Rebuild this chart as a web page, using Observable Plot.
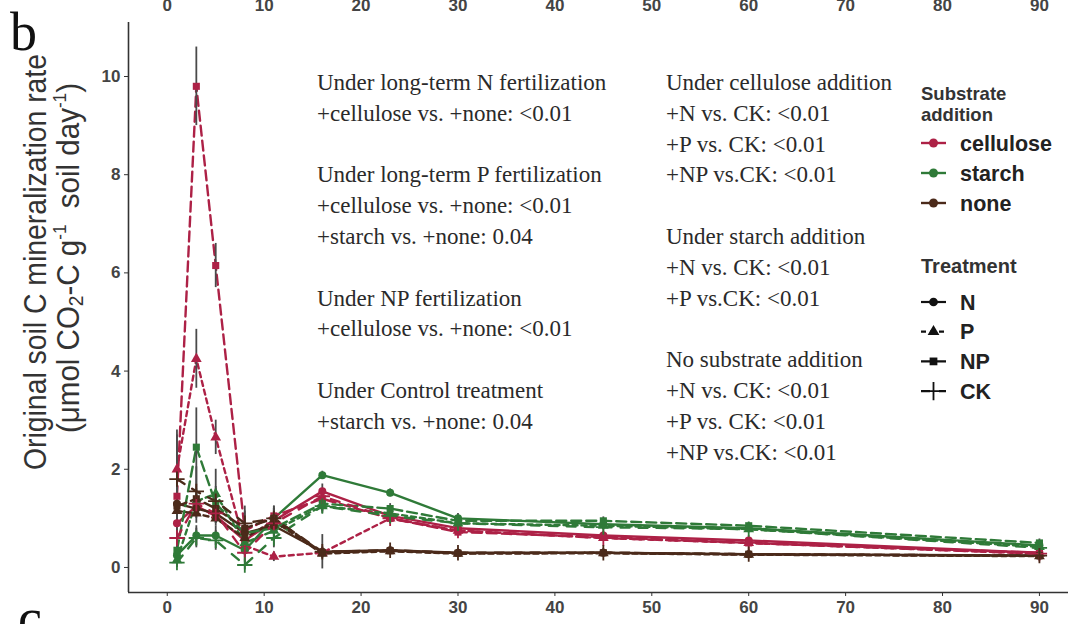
<!DOCTYPE html>
<html>
<head>
<meta charset="utf-8">
<script src="https://cdn.jsdelivr.net/npm/d3@7"></script>
<script src="https://cdn.jsdelivr.net/npm/@observablehq/plot@0.6"></script>
<style>
  body { margin: 0; background: #fff; }
  #chart { position: relative; width: 1068px; height: 624px; overflow: hidden; }
</style>
</head>
<body>
<div id="chart"></div>
<script>
// ---- data ----
const days = [1, 3, 5, 8, 11, 16, 23, 30, 45, 60, 90];
const substrates = ["cellulose", "starch", "none"];
const treatments = ["N", "P", "NP", "CK"];
const xTicks = [0, 10, 20, 30, 40, 50, 60, 70, 80, 90];
const yTicks = [0, 2, 4, 6, 8, 10];

const cellulose_N  = [0.9, 1.25, 1.05, 0.55, 0.95, 1.55, 1.05, 0.8, 0.65, 0.55, 0.3];
const cellulose_P  = [2.0, 4.25, 2.65, 0.45, 0.22, 0.3, 1.0, 0.75, 0.6, 0.5, 0.28];
const cellulose_NP = [1.45, 9.8, 6.15, 0.75, 1.05, 1.4, 1.0, 0.72, 0.62, 0.5, 0.3];
const cellulose_CK = [0.6, 1.3, 1.1, 0.3, 0.9, 1.45, 1.0, 0.75, 0.6, 0.5, 0.28];
const starch_N  = [0.25, 0.65, 0.65, 0.35, 1.0, 1.88, 1.52, 1.0, 0.88, 0.8, 0.45];
const starch_P  = [0.15, 1.35, 1.5, 0.5, 0.75, 1.25, 1.1, 0.9, 0.85, 0.78, 0.42];
const starch_NP = [0.35, 2.45, 1.3, 0.7, 0.8, 1.3, 1.2, 0.95, 0.95, 0.85, 0.5];
const starch_CK = [0.1, 0.6, 0.55, 0.05, 0.6, 1.25, 1.05, 0.9, 0.82, 0.78, 0.4];
const none_N  = [1.3, 1.2, 1.1, 0.7, 0.85, 0.32, 0.35, 0.3, 0.3, 0.27, 0.24];
const none_P  = [1.15, 1.1, 1.0, 0.6, 0.95, 0.28, 0.33, 0.28, 0.29, 0.26, 0.23];
const none_NP = [1.25, 1.4, 1.2, 0.8, 1.0, 0.3, 0.34, 0.29, 0.3, 0.27, 0.24];
const none_CK = [1.8, 1.55, 1.35, 0.9, 1.0, 0.32, 0.35, 0.3, 0.3, 0.27, 0.24];

const cellulose_N_sd  = [0.3, 0.2, 0.15, 0.2, 0.3, 0.15, 0.1, 0.08, 0.08, 0.06, 0.05];
const cellulose_P_sd  = [0.8, 0.6, 0.35, 0.2, 0.1, 0.1, 0.1, 0.08, 0.07, 0.06, 0.05];
const cellulose_NP_sd = [0.4, 0.8, 0.45, 0.5, 0.2, 0.15, 0.1, 0.08, 0.08, 0.06, 0.05];
const cellulose_CK_sd = [0.3, 0.2, 0.2, 0.2, 0.15, 0.12, 0.1, 0.08, 0.07, 0.06, 0.05];
const starch_N_sd  = [0.15, 0.2, 0.2, 0.15, 0.2, 0.08, 0.08, 0.1, 0.08, 0.06, 0.05];
const starch_P_sd  = [0.1, 0.3, 0.5, 0.2, 0.2, 0.15, 0.1, 0.08, 0.07, 0.06, 0.08];
const starch_NP_sd = [0.2, 0.8, 0.3, 0.2, 0.2, 0.15, 0.1, 0.1, 0.08, 0.06, 0.08];
const starch_CK_sd = [0.1, 0.2, 0.2, 0.1, 0.2, 0.12, 0.1, 0.08, 0.07, 0.06, 0.05];
const none_N_sd  = [0.3, 0.2, 0.15, 0.2, 0.25, 0.35, 0.05, 0.05, 0.05, 0.04, 0.04];
const none_P_sd  = [0.3, 0.2, 0.15, 0.2, 0.2, 0.1, 0.05, 0.05, 0.05, 0.04, 0.04];
const none_NP_sd = [0.3, 0.2, 0.15, 0.2, 0.2, 0.1, 0.05, 0.05, 0.05, 0.04, 0.04];
const none_CK_sd = [0.9, 0.5, 0.3, 0.25, 0.2, 0.1, 0.05, 0.05, 0.05, 0.04, 0.04];

const leftNotes = [
  "Under long-term N fertilization", "+cellulose vs. +none: <0.01", "",
  "Under long-term P fertilization", "+cellulose vs. +none: <0.01", "+starch vs. +none: 0.04", "",
  "Under NP fertilization", "+cellulose vs. +none: <0.01", "",
  "Under Control treatment", "+starch vs. +none: 0.04"
];
const rightNotes = [
  "Under cellulose addition", "+N vs. CK: <0.01", "+P vs. CK: <0.01", "+NP vs.CK: <0.01", "",
  "Under starch addition", "+N vs. CK: <0.01", "+P vs.CK: <0.01", "",
  "No substrate addition", "+N vs. CK: <0.01", "+P vs. CK: <0.01", "+NP vs.CK: <0.01"
];

// ---- table ----
const values = {
  cellulose: {N: cellulose_N, P: cellulose_P, NP: cellulose_NP, CK: cellulose_CK},
  starch: {N: starch_N, P: starch_P, NP: starch_NP, CK: starch_CK},
  none: {N: none_N, P: none_P, NP: none_NP, CK: none_CK}
};
const sds = {
  cellulose: {N: cellulose_N_sd, P: cellulose_P_sd, NP: cellulose_NP_sd, CK: cellulose_CK_sd},
  starch: {N: starch_N_sd, P: starch_P_sd, NP: starch_NP_sd, CK: starch_CK_sd},
  none: {N: none_N_sd, P: none_P_sd, NP: none_NP_sd, CK: none_CK_sd}
};
const rows = [];
for (const s of substrates) for (const t of treatments)
  days.forEach((d, i) => rows.push({day: d, substrate: s, treatment: t,
    rate: values[s][t][i], sd: sds[s][t][i]}));

const colors = ["#ad2146", "#2f7a38", "#4b2a1a"];
const dashes = {N: null, P: "5,4", NP: "10,5", CK: "9,9"};
const sans = "'Liberation Sans', Arial, sans-serif";
const serif = "'Liberation Serif', 'Times New Roman', serif";

const lineMarks = treatments.map(t =>
  Plot.line(rows.filter(d => d.treatment === t), {
    x: "day", y: "rate", z: "substrate", stroke: "substrate",
    strokeWidth: 2.4, strokeDasharray: dashes[t] || undefined
  }));

const plot = Plot.plot({
  width: 1068, height: 624,
  marginLeft: 128, marginRight: 0, marginTop: 22, marginBottom: 32,
  style: {fontFamily: sans, background: "#fff", overflow: "visible"},
  x: {domain: [-4, 93]},
  y: {domain: [-0.51, 11.1]},
  color: {domain: substrates, range: colors},
  symbol: {domain: treatments, range: ["circle", "triangle", "square", "plus"]},
  marks: [
    Plot.axisX({ticks: xTicks, tickSize: 4, tickPadding: 4, fontSize: 17, fontWeight: "bold", fill: "#444", stroke: "#333", label: null}),
    Plot.axisX({anchor: "top", ticks: xTicks, tickSize: 0, tickPadding: 12, fontSize: 17, fontWeight: "bold", fill: "#444", label: null}),
    Plot.axisY({ticks: yTicks, tickSize: 4, tickPadding: 4, fontSize: 17, fontWeight: "bold", fill: "#444", stroke: "#333", label: null}),
    Plot.ruleX([-4], {stroke: "#333", strokeWidth: 1.6}),
    Plot.ruleY([-0.51], {stroke: "#333", strokeWidth: 1.6}),
    ...lineMarks,
    Plot.ruleX(rows, {x: "day", y1: d => d.rate - d.sd, y2: d => d.rate + d.sd, stroke: "#4a4a4a", strokeWidth: 1.8}),
    Plot.dot(rows.filter(d => d.treatment !== "CK"), {x: "day", y: "rate", symbol: "treatment", fill: "substrate", r: 4}),
    Plot.dot(rows.filter(d => d.treatment === "CK"), {x: "day", y: "rate", symbol: "treatment", stroke: "substrate", strokeWidth: 1.8, r: 5})
  ]
});
document.getElementById("chart").appendChild(plot);

// ---- annotations, legend, titles ----
const svg = d3.select(plot);
const g = svg.append("g").attr("text-anchor", "start");

g.append("text").attr("x", 10).attr("y", 50).attr("font-family", serif).attr("font-size", 54).attr("fill", "#111").text("b");
g.append("text").attr("x", 18).attr("y", 636).attr("font-family", serif).attr("font-size", 54).attr("fill", "#111").text("c");

const yt = g.append("g").attr("font-family", sans).attr("font-size", 31).attr("fill", "#333").attr("text-anchor", "middle");
yt.append("text").attr("transform", "translate(0,262) rotate(-90)").attr("x", 0).attr("y", 46)
  .attr("textLength", 416).attr("lengthAdjust", "spacingAndGlyphs")
  .text("Original soil C mineralization rate");
const t2 = yt.append("text").attr("transform", "translate(0,258) rotate(-90)").attr("x", 0).attr("y", 79)
  .attr("textLength", 350).attr("lengthAdjust", "spacingAndGlyphs");
t2.append("tspan").text("(μmol CO");
t2.append("tspan").attr("font-size", 20).attr("dy", 4).text("2");
t2.append("tspan").attr("dy", -4).text("-C g");
t2.append("tspan").attr("font-size", 18).attr("dy", -13).text("-1");
t2.append("tspan").attr("dy", 13).text("  soil day");
t2.append("tspan").attr("font-size", 18).attr("dy", -13).text("-1");
t2.append("tspan").attr("dy", 13).text(")");

const notes = g.append("g").attr("font-family", serif).attr("font-size", 23).attr("fill", "#2a2a2a");
leftNotes.forEach((s, i) => { if (s) notes.append("text").attr("x", 317).attr("y", 90 + i * 30.8).text(s); });
rightNotes.forEach((s, i) => { if (s) notes.append("text").attr("x", 666).attr("y", 90 + i * 30.8).text(s); });

const leg = g.append("g").attr("font-family", sans).attr("font-weight", "bold").attr("fill", "#222");
leg.append("text").attr("x", 921).attr("y", 100).attr("font-size", 18.5).attr("fill", "#333").text("Substrate");
leg.append("text").attr("x", 921).attr("y", 121).attr("font-size", 18.5).attr("fill", "#333").text("addition");
substrates.forEach((s, i) => {
  const y = 143 + i * 30;
  leg.append("line").attr("x1", 921).attr("x2", 946).attr("y1", y).attr("y2", y).attr("stroke", colors[i]).attr("stroke-width", 2.4);
  leg.append("circle").attr("cx", 933.5).attr("cy", y).attr("r", 4.5).attr("fill", colors[i]);
  leg.append("text").attr("x", 960).attr("y", y + 7.5).attr("font-size", 21.5).text(s);
});
leg.append("text").attr("x", 921).attr("y", 273).attr("font-size", 20).attr("fill", "#333").text("Treatment");
const symNames = {N: d3.symbolCircle, P: d3.symbolTriangle, NP: d3.symbolSquare, CK: d3.symbolPlus};
treatments.forEach((t, i) => {
  const y = 302 + i * 29.7;
  leg.append("line").attr("x1", 921).attr("x2", 946).attr("y1", y).attr("y2", y).attr("stroke", "#111")
    .attr("stroke-width", 2.2).attr("stroke-dasharray", dashes[t]);
  const p = leg.append("path").attr("transform", `translate(933.5,${y})`)
    .attr("d", d3.symbol(symNames[t], t === "CK" ? 110 : 60)());
  if (t === "CK") p.attr("fill", "none").attr("stroke", "#111").attr("stroke-width", 1.8);
  else p.attr("fill", "#111");
  leg.append("text").attr("x", 960).attr("y", y + 7.5).attr("font-size", 21.5).text(t);
});
</script>
</body>
</html>
